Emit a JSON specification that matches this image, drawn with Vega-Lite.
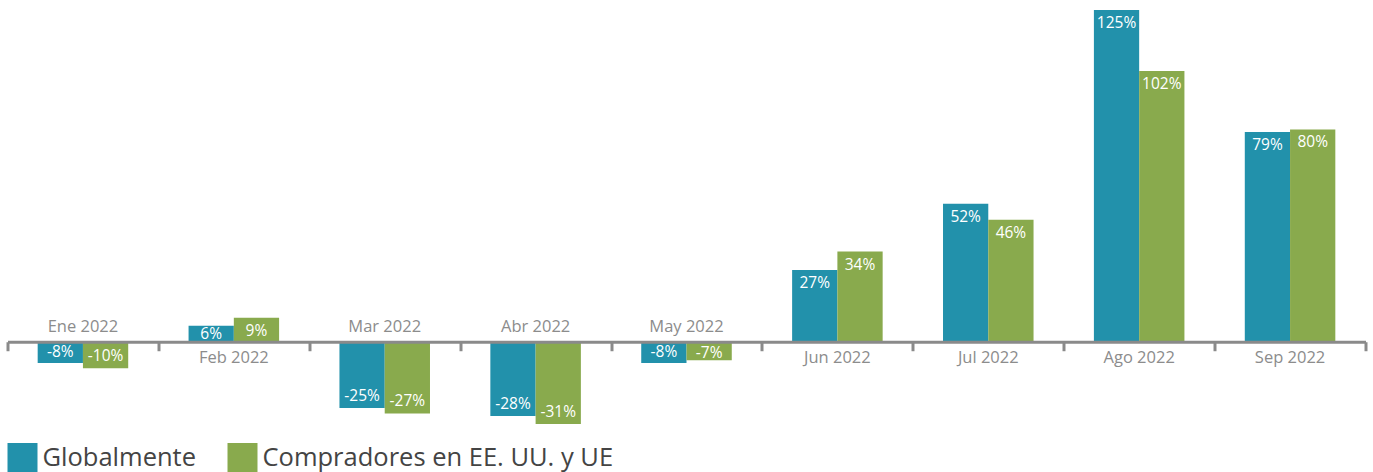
{
  "$schema": "https://vega.github.io/schema/vega-lite/v6.json",
  "width": 1358,
  "height": 414,
  "padding": {"left": 5.5, "top": 10, "right": 6, "bottom": 0},
  "autosize": {"type": "pad"},
  "config": {
    "view": {"stroke": null},
    "font": "Open Sans",
    "locale": {"number": {"decimal": ".", "thousands": ",", "grouping": [3], "currency": ["$", ""], "minus": "-"}}
  },
  "data": {
    "values": [
      {"mes": "Ene 2022", "serie": "Globalmente", "valor": -0.08},
      {"mes": "Ene 2022", "serie": "Compradores en EE. UU. y UE", "valor": -0.10},
      {"mes": "Feb 2022", "serie": "Globalmente", "valor": 0.06},
      {"mes": "Feb 2022", "serie": "Compradores en EE. UU. y UE", "valor": 0.09},
      {"mes": "Mar 2022", "serie": "Globalmente", "valor": -0.25},
      {"mes": "Mar 2022", "serie": "Compradores en EE. UU. y UE", "valor": -0.27},
      {"mes": "Abr 2022", "serie": "Globalmente", "valor": -0.28},
      {"mes": "Abr 2022", "serie": "Compradores en EE. UU. y UE", "valor": -0.31},
      {"mes": "May 2022", "serie": "Globalmente", "valor": -0.08},
      {"mes": "May 2022", "serie": "Compradores en EE. UU. y UE", "valor": -0.07},
      {"mes": "Jun 2022", "serie": "Globalmente", "valor": 0.27},
      {"mes": "Jun 2022", "serie": "Compradores en EE. UU. y UE", "valor": 0.34},
      {"mes": "Jul 2022", "serie": "Globalmente", "valor": 0.52},
      {"mes": "Jul 2022", "serie": "Compradores en EE. UU. y UE", "valor": 0.46},
      {"mes": "Ago 2022", "serie": "Globalmente", "valor": 1.25},
      {"mes": "Ago 2022", "serie": "Compradores en EE. UU. y UE", "valor": 1.02},
      {"mes": "Sep 2022", "serie": "Globalmente", "valor": 0.79},
      {"mes": "Sep 2022", "serie": "Compradores en EE. UU. y UE", "valor": 0.80}
    ]
  },
  "encoding": {
    "x": {
      "field": "mes",
      "type": "nominal",
      "sort": null,
      "scale": {"paddingInner": 0, "paddingOuter": 0}
    },
    "y": {
      "field": "valor",
      "type": "quantitative",
      "scale": {"domain": [-0.31, 1.25], "nice": false},
      "axis": null
    }
  },
  "layer": [
    {
      "mark": {"type": "bar"},
      "encoding": {
        "x": {
          "field": "mes",
          "type": "nominal",
          "sort": null,
          "scale": {"paddingInner": 0, "paddingOuter": 0},
          "axis": {
            "title": null,
            "labels": false,
            "domainColor": "#8a8a8a",
            "domainWidth": 3,
            "tickColor": "#8a8a8a",
            "tickWidth": 3,
            "tickSize": 9,
            "tickBand": "extent",
            "offset": -82.27,
            "zindex": 1,
            "grid": false
          }
        },
        "xOffset": {
          "field": "serie",
          "type": "nominal",
          "sort": ["Globalmente", "Compradores en EE. UU. y UE"],
          "scale": {"paddingInner": 0, "paddingOuter": 0.6667}
        },
        "color": {
          "field": "serie",
          "type": "nominal",
          "sort": ["Globalmente", "Compradores en EE. UU. y UE"],
          "scale": {"range": ["#2291ab", "#89aa4d"]},
          "legend": {
            "title": null,
            "orient": "none",
            "legendX": 0,
            "legendY": 433,
            "direction": "horizontal",
            "symbolType": "square",
            "symbolSize": 900,
            "symbolStrokeWidth": 0,
            "symbolOpacity": 1,
            "labelFontSize": 25.5,
            "labelColor": "#444444",
            "labelFont": "Open Sans",
            "columnPadding": 31,
            "labelOffset": 5,
            "labelLimit": 600
          }
        }
      }
    },
    {
      "transform": [{"filter": "datum.valor >= 0.08"}],
      "mark": {"type": "text", "color": "white", "fontSize": 15.5, "fontWeight": 500, "baseline": "middle", "dy": 13},
      "encoding": {
        "xOffset": {"field": "serie", "type": "nominal", "sort": ["Globalmente", "Compradores en EE. UU. y UE"]},
        "text": {"field": "valor", "type": "quantitative", "format": ".0%"}
      }
    },
    {
      "transform": [{"filter": "datum.valor >= 0 && datum.valor < 0.08"}],
      "mark": {"type": "text", "color": "white", "fontSize": 15.5, "fontWeight": 500, "baseline": "middle", "dy": 8},
      "encoding": {
        "xOffset": {"field": "serie", "type": "nominal", "sort": ["Globalmente", "Compradores en EE. UU. y UE"]},
        "text": {"field": "valor", "type": "quantitative", "format": ".0%"}
      }
    },
    {
      "transform": [{"filter": "datum.valor < 0 && datum.valor > -0.075"}],
      "mark": {"type": "text", "color": "white", "fontSize": 15.5, "fontWeight": 500, "baseline": "middle", "dy": -7.5},
      "encoding": {
        "xOffset": {"field": "serie", "type": "nominal", "sort": ["Globalmente", "Compradores en EE. UU. y UE"]},
        "text": {"field": "valor", "type": "quantitative", "format": ".0%"}
      }
    },
    {
      "transform": [{"filter": "datum.valor <= -0.075 && datum.valor > -0.09"}],
      "mark": {"type": "text", "color": "white", "fontSize": 15.5, "fontWeight": 500, "baseline": "middle", "dy": -10.5},
      "encoding": {
        "xOffset": {"field": "serie", "type": "nominal", "sort": ["Globalmente", "Compradores en EE. UU. y UE"]},
        "text": {"field": "valor", "type": "quantitative", "format": ".0%"}
      }
    },
    {
      "transform": [{"filter": "datum.valor <= -0.09"}],
      "mark": {"type": "text", "color": "white", "fontSize": 15.5, "fontWeight": 500, "baseline": "middle", "dy": -12.5},
      "encoding": {
        "xOffset": {"field": "serie", "type": "nominal", "sort": ["Globalmente", "Compradores en EE. UU. y UE"]},
        "text": {"field": "valor", "type": "quantitative", "format": ".0%"}
      }
    },
    {
      "transform": [{"filter": "datum.serie == 'Globalmente' && datum.valor >= 0"}],
      "mark": {"type": "text", "color": "#8c8c8c", "fontSize": 16.5, "baseline": "middle", "dy": 16},
      "encoding": {
        "y": {"datum": 0},
        "text": {"field": "mes", "type": "nominal"}
      }
    },
    {
      "transform": [{"filter": "datum.serie == 'Globalmente' && datum.valor < 0"}],
      "mark": {"type": "text", "color": "#8c8c8c", "fontSize": 16.5, "baseline": "middle", "dy": -15},
      "encoding": {
        "y": {"datum": 0},
        "text": {"field": "mes", "type": "nominal"}
      }
    }
  ]
}
